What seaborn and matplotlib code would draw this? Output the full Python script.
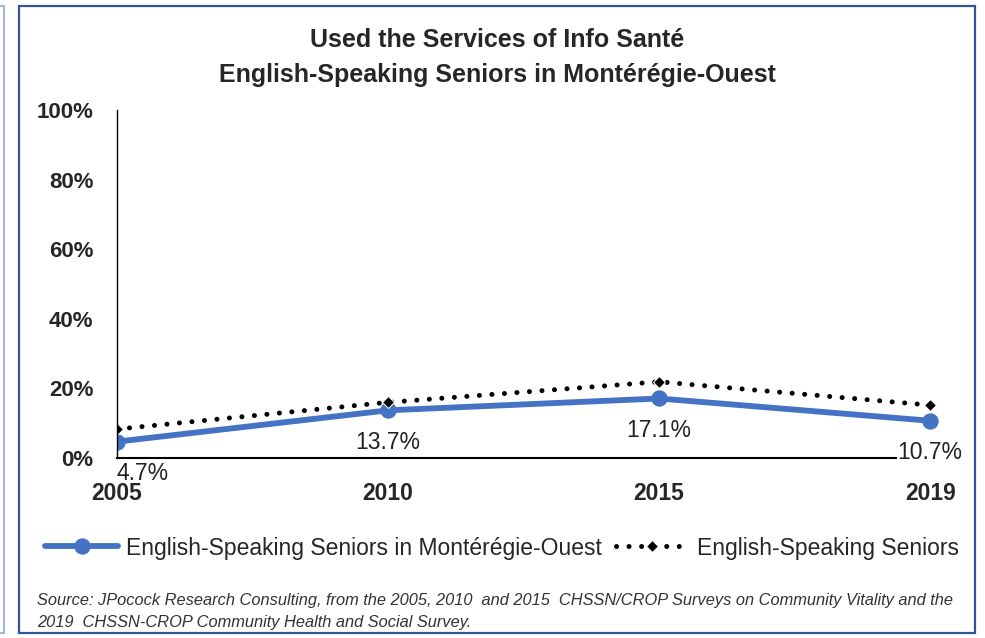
import pandas as pd
import matplotlib
matplotlib.use("Agg")
import matplotlib.pyplot as plt
import seaborn as sns
from matplotlib.patches import Rectangle

years = ["2005", "2010", "2015", "2019"]
monteregie = [4.7, 13.7, 17.1, 10.7]
seniors_all = [8.3, 16.0, 21.9, 15.2]
label_text = ["4.7%", "13.7%", "17.1%", "10.7%"]
yticks = [0, 20, 40, 60, 80, 100]

name_a = "English-Speaking Seniors in Montérégie-Ouest"
name_b = "English-Speaking Seniors"

df = pd.DataFrame({
    "year": years * 2,
    "pct": monteregie + seniors_all,
    "series": [name_a] * 4 + [name_b] * 4,
})

sns.set_style("white")
plt.rcParams["font.family"] = ["Liberation Sans", "DejaVu Sans"]

fig = plt.figure(figsize=(9.85, 6.38), dpi=100)
ax = fig.add_axes([117 / 985, 1 - 458 / 638, 843 / 985, 348 / 638])

blue = "#4472C4"
sns.lineplot(data=df[df.series == name_a], x="year", y="pct", ax=ax,
             color=blue, lw=4.2, marker="o", markersize=11,
             markeredgecolor=blue, label=name_a, sort=False)
sns.lineplot(data=df[df.series == name_b], x="year", y="pct", ax=ax,
             color="black", lw=3.6, marker="D", markersize=6,
             linestyle=(0, (0.01, 2.5)), dash_capstyle="round",
             label=name_b, sort=False)

# data labels under the blue points
for i, (v, t) in enumerate(zip(monteregie, label_text)):
    dx = 26 if i == 0 else 0
    box = None if i == 0 else dict(boxstyle="square,pad=0.02", fc="white", ec="none")
    ax.annotate(t, (i, v), xytext=(dx, -32), textcoords="offset pixels",
                ha="center", va="center", fontsize=16.5, color="#222222",
                bbox=box, zorder=5)

ax.set_xlim(0, 3.11)
ax.set_ylim(0, 100)
ax.set_yticks(yticks)
ax.set_yticklabels([f"{t}%" for t in yticks], fontsize=16, fontweight="bold")
ax.set_xticks(range(4))
ax.set_xticklabels(years, fontsize=16.5, fontweight="bold")
ax.tick_params(axis="y", length=0, pad=17)
ax.tick_params(axis="x", length=6, width=1.2, direction="out", pad=11)
for s in ["top", "right"]:
    ax.spines[s].set_visible(False)
ax.spines["left"].set_linewidth(1)
ax.spines["bottom"].set_linewidth(1.5)
ax.spines["left"].set_color("black")
ax.spines["bottom"].set_color("black")
ax.set_xlabel("")
ax.set_ylabel("")

ax.get_legend().remove()
h, l = ax.get_legend_handles_labels()
fig.legend(h, l, loc="center", bbox_to_anchor=(502 / 985, 1 - 548 / 638),
           ncol=2, frameon=False, fontsize=16.5, handlelength=3.2,
           handletextpad=0.35, columnspacing=0.6)

fig.text(497 / 985, 1 - 40 / 638, "Used the Services of Info Santé",
         ha="center", va="center", fontsize=18, fontweight="bold")
fig.text(497 / 985, 1 - 75 / 638, name_a,
         ha="center", va="center", fontsize=18, fontweight="bold")

fig.text(37 / 985, 1 - 600 / 638,
         "Source: JPocock Research Consulting, from the 2005, 2010  and 2015  CHSSN/CROP Surveys on Community Vitality and the",
         ha="left", va="center", fontsize=11.8, style="italic", color="#333333")
fig.text(37 / 985, 1 - 622 / 638,
         "2019  CHSSN-CROP Community Health and Social Survey.",
         ha="left", va="center", fontsize=11.8, style="italic", color="#333333")

fig.patches.append(Rectangle((19 / 985, 1 - 633 / 638), 956 / 985, 627 / 638,
                             transform=fig.transFigure, fill=False,
                             ec="#2F5597", lw=1.6))
fig.patches.append(Rectangle((-0.01, 1 - 633 / 638), 0.014, 627 / 638,
                             transform=fig.transFigure, fill=False,
                             ec="#8EA9DB", lw=1.2))

fig.savefig("out.png", dpi=100)
